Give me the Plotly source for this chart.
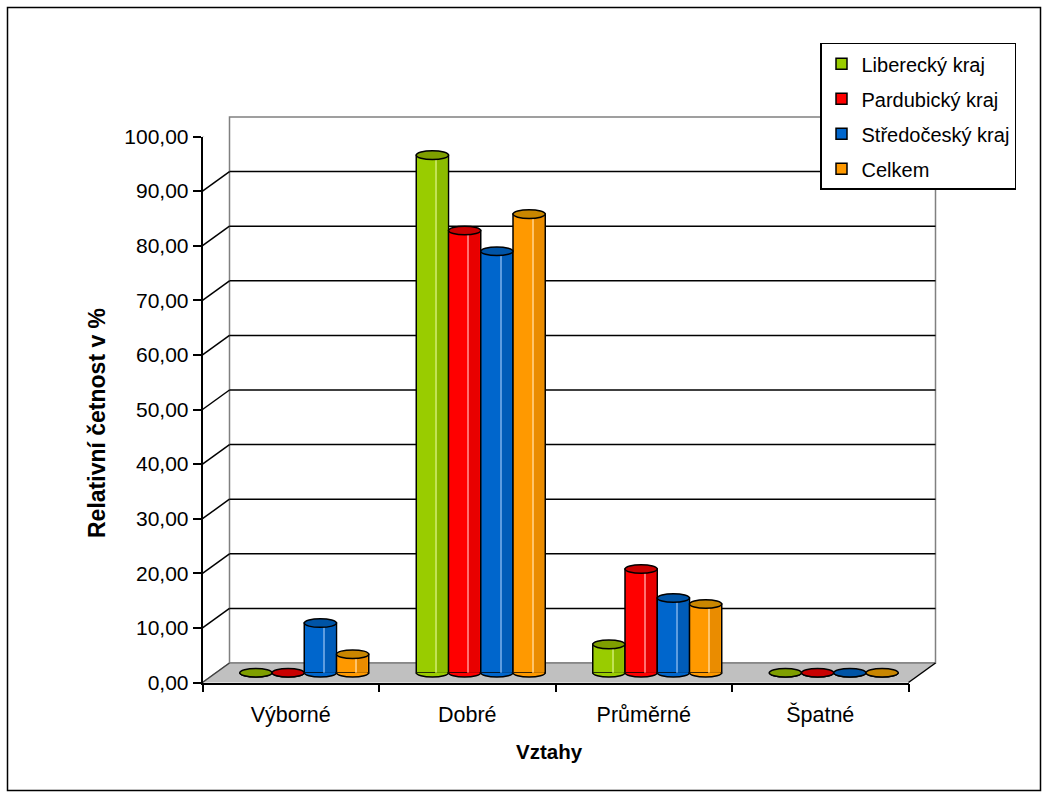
import plotly.graph_objects as go

# ---- data -------------------------------------------------------------
categories = ["Výborné", "Dobré", "Průměrné", "Špatné"]
series_names = ["Liberecký kraj", "Pardubický kraj", "Středočeský kraj", "Celkem"]
liberecky = [0.0, 94.8, 5.2, 0.0]
pardubicky = [0.0, 81.0, 19.0, 0.0]
stredocesky = [9.1, 77.2, 13.7, 0.0]
celkem = [3.4, 84.0, 12.6, 0.0]
y_ticks = [0, 10, 20, 30, 40, 50, 60, 70, 80, 90, 100]

series_values = [liberecky, pardubicky, stredocesky, celkem]

# colours: body, right-hand shade, highlight stripe, cap
palette = [
    ("#99CC00", "#8cbc00", "#c2e255", "#7f9f00"),
    ("#FF0000", "#e80000", "#ff7070", "#c80000"),
    ("#0066CC", "#005cb8", "#5e9de0", "#0054a6"),
    ("#FF9900", "#ea8c00", "#ffc46a", "#c98600"),
]

# ---- page geometry (pixels) --------------------------------------------
W, H = 1048, 798
FRONT_L, FRONT_R = 202.5, 908.5      # front edge of the floor
FRONT_0, FRONT_100 = 682.5, 136.5    # front value axis
DX, DY = 27.0, 19.5                  # depth offset of the back wall
SCALE = (FRONT_0 - FRONT_100) / 100.0
DEPTH_UNITS = DY / SCALE             # depth offset expressed in value units


def fx(p):
    return p / W


def fy(p):
    return 1 - p / H


BAR_W = 0.1827                       # bar width in category units
ELL_RY = 4.3 / SCALE                 # half-height of cylinder ellipses

FONT = "Liberation Sans, Arial, sans-serif"

fig = go.Figure()

# cylinders live on the mid-depth axes (x2 / y2)
xs = list(range(len(categories)))
for s, vals in enumerate(series_values):
    body, shade, light, cap = palette[s]
    off = -2 * BAR_W + s * BAR_W
    fig.add_trace(go.Bar(
        x=xs, y=vals, xaxis="x2", yaxis="y2", width=BAR_W, offset=off,
        marker=dict(color=body, line=dict(color="black", width=1.5)),
        showlegend=False, hoverinfo="skip",
    ))
for s, vals in enumerate(series_values):
    body, shade, light, cap = palette[s]
    off = -2 * BAR_W + s * BAR_W
    fig.add_trace(go.Bar(
        x=xs, y=vals, xaxis="x2", yaxis="y2",
        width=BAR_W * 0.33, offset=off + BAR_W * 0.63,
        marker=dict(color=shade, line=dict(width=0)),
        showlegend=False, hoverinfo="skip",
    ))
    fig.add_trace(go.Bar(
        x=xs, y=vals, xaxis="x2", yaxis="y2",
        width=BAR_W * 0.035, offset=off + BAR_W * 0.6,
        marker=dict(color=light, line=dict(width=0)),
        showlegend=False, hoverinfo="skip",
    ))

# legend entries (square swatches)
for s, name in enumerate(series_names):
    fig.add_trace(go.Scatter(
        x=[None], y=[None], mode="markers", name=name, legendgroup=name,
        marker=dict(symbol="square", size=11, color=palette[s][0],
                    line=dict(color="black", width=1.5)),
        xaxis="x2", yaxis="y2",
    ))

shapes = []

# outer frame
shapes.append(dict(type="rect", xref="paper", yref="paper",
                   x0=fx(7.5), x1=fx(1040.5), y0=fy(790.5), y1=fy(7.5),
                   line=dict(color="black", width=1.5), layer="below"))

# back wall
shapes.append(dict(type="rect", xref="paper", yref="paper",
                   x0=fx(FRONT_L + DX), x1=fx(FRONT_R + DX),
                   y0=fy(FRONT_0 - DY), y1=fy(FRONT_100 - DY),
                   fillcolor="white", line=dict(color="#808080", width=1.5),
                   layer="below"))

# back wall gridlines and left side wall diagonals, one per value tick
for v in y_ticks:
    if 0 < v < 100:
        shapes.append(dict(type="line", xref="paper", yref="y",
                           x0=fx(FRONT_L + DX), x1=fx(FRONT_R + DX),
                           y0=v + DEPTH_UNITS, y1=v + DEPTH_UNITS,
                           line=dict(color="black", width=1.5), layer="below"))
    col = "#808080" if v in (0, 100) else "black"
    shapes.append(dict(type="line", xref="paper", yref="y",
                       x0=fx(FRONT_L), x1=fx(FRONT_L + DX),
                       y0=v, y1=v + DEPTH_UNITS,
                       line=dict(color=col, width=1.5), layer="below"))

# floor
floor_path = "M {} {} L {} {} L {} {} L {} {} Z".format(
    fx(FRONT_L), fy(FRONT_0), fx(FRONT_R), fy(FRONT_0),
    fx(FRONT_R + DX), fy(FRONT_0 - DY), fx(FRONT_L + DX), fy(FRONT_0 - DY))
shapes.append(dict(type="path", xref="paper", yref="paper", path=floor_path,
                   fillcolor="#c0c0c0", line=dict(width=0), layer="below"))
shapes.append(dict(type="line", xref="paper", yref="paper",
                   x0=fx(FRONT_L + DX), x1=fx(FRONT_R + DX),
                   y0=fy(FRONT_0 - DY), y1=fy(FRONT_0 - DY),
                   line=dict(color="#808080", width=1.5), layer="below"))
shapes.append(dict(type="line", xref="paper", yref="paper",
                   x0=fx(FRONT_L), x1=fx(FRONT_L + DX),
                   y0=fy(FRONT_0), y1=fy(FRONT_0 - DY),
                   line=dict(color="#404040", width=1.5), layer="below"))
shapes.append(dict(type="line", xref="paper", yref="paper",
                   x0=fx(FRONT_R), x1=fx(FRONT_R + DX),
                   y0=fy(FRONT_0), y1=fy(FRONT_0 - DY),
                   line=dict(color="black", width=1.5), layer="below"))

# cylinder bottoms and caps
k = 0.5523
for s, vals in enumerate(series_values):
    body, shade, light, cap = palette[s]
    off = -2 * BAR_W + s * BAR_W
    for i, v in enumerate(vals):
        xl = i + off
        xr = xl + BAR_W
        cx = (xl + xr) / 2
        rx = BAR_W / 2
        ry = ELL_RY
        bottom = ("M {xl} 0 C {xl} {a} {b} {m} {cx} {m} "
                  "C {c} {m} {xr} {a} {xr} 0").format(
            xl=xl, xr=xr, cx=cx, a=-k * ry, m=-ry, b=cx - k * rx, c=cx + k * rx)
        shapes.append(dict(type="path", xref="x2", yref="y2", path=bottom,
                           fillcolor=body, line=dict(color="black", width=1.5),
                           layer="above"))
        shapes.append(dict(type="circle", xref="x2", yref="y2",
                           x0=xl, x1=xr, y0=v - ry, y1=v + ry,
                           fillcolor=cap, line=dict(color="black", width=1.5),
                           layer="above"))

annotations = [
    dict(text="<b>Relativní četnost v %</b>", xref="paper", yref="paper",
         x=fx(97), y=fy(423), xanchor="center", yanchor="middle",
         textangle=-90, showarrow=False,
         font=dict(family=FONT, size=23, color="black")),
    dict(text="<b>Vztahy</b>", xref="paper", yref="paper",
         x=fx(549), y=fy(751), xanchor="center", yanchor="middle",
         showarrow=False,
         font=dict(family=FONT, size=20.5, color="black")),
]

y2_lo, y2_hi = -3.0, 103.0
bar_base = FRONT_0 - DY / 2

fig.update_layout(
    width=W, height=H,
    margin=dict(l=0, r=0, t=0, b=0, pad=0, autoexpand=False),
    paper_bgcolor="white", plot_bgcolor="rgba(0,0,0,0)",
    separators=", ",
    barmode="overlay",
    font=dict(family=FONT, size=20, color="black"),
    shapes=shapes, annotations=annotations,
    # front axes with labels
    xaxis=dict(domain=[fx(FRONT_L), fx(FRONT_R)], range=[-0.5, 3.5],
               tickmode="array", tickvals=xs, ticktext=categories,
               ticks="", showgrid=False, zeroline=False,
               showline=True, linecolor="black", linewidth=1.5,
               tickfont=dict(family=FONT, size=21.5), ticklabelstandoff=12,
               minor=dict(tick0=-0.5, dtick=1, ticks="outside", ticklen=8,
                          tickwidth=1.5, tickcolor="black", showgrid=False),
               anchor="y", automargin=False),
    yaxis=dict(domain=[fy(FRONT_0), fy(FRONT_100)], range=[0, 100],
               tickmode="array", tickvals=y_ticks, tickformat=".2f",
               ticks="outside", ticklen=8, tickwidth=1.5, tickcolor="black",
               showgrid=False, zeroline=False, showline=True,
               linecolor="black", linewidth=1.5,
               tickfont=dict(family=FONT, size=21), anchor="x",
               automargin=False),
    # mid-depth axes carrying the cylinders
    xaxis2=dict(domain=[fx(FRONT_L + DX / 2), fx(FRONT_R + DX / 2)],
                range=[-0.5, 3.5], visible=False, anchor="y2"),
    yaxis2=dict(domain=[fy(bar_base - y2_lo * SCALE), fy(bar_base - y2_hi * SCALE)],
                range=[y2_lo, y2_hi], visible=False, anchor="x2"),
    legend=dict(x=fx(820), y=fy(42.7), xanchor="left", yanchor="top",
                bgcolor="white", bordercolor="black", borderwidth=1.5,
                font=dict(family=FONT, size=20), tracegroupgap=6,
                traceorder="grouped"),
)

fig.write_html("out.html")
